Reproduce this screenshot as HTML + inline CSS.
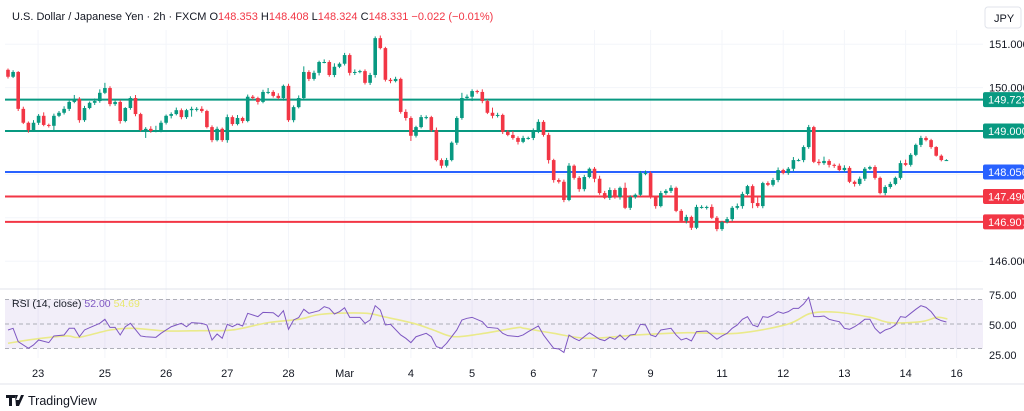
<!DOCTYPE html>
<html><head><meta charset="utf-8"><style>
html,body{margin:0;padding:0;background:#fff;width:1024px;height:411px;overflow:hidden}
svg{display:block;font-family:"Liberation Sans",sans-serif}
</style></head><body>
<svg id="chart" width="1024" height="411" viewBox="0 0 1024 411" xmlns="http://www.w3.org/2000/svg">
<g id="grid"></g>
<g id="levels"></g>
<g id="candles"></g>
<g id="rsi"></g>
<g id="axes"></g>
<text x="12" y="20" font-size="11" fill="#131722">U.S. Dollar / Japanese Yen · 2h · FXCM <tspan>O</tspan><tspan fill="#f23645">148.353</tspan> <tspan>H</tspan><tspan fill="#f23645">148.408</tspan> <tspan>L</tspan><tspan fill="#f23645">148.324</tspan> <tspan>C</tspan><tspan fill="#f23645">148.331</tspan> <tspan fill="#f23645">−0.022 (−0.01%)</tspan></text>
<rect x="985" y="7" width="36" height="21" rx="3" fill="#fff" stroke="#e0e3eb"/>
<text x="994" y="22" font-size="11" fill="#131722">JPY</text>
<text x="12" y="307" font-size="10.5" fill="#131722">RSI (14, close) <tspan fill="#7e57c2">52.00</tspan> <tspan fill="#e8e870">54.69</tspan></text>
<line x1="0" y1="384" x2="1024" y2="384" stroke="#e0e3eb"/>
<g>
<path d="M6 395h9v3h-3v8h-3v-8h-3z M15 395h3l-2 5h3l2-5h3l-5 11h-3z" fill="#131722"/>
<text x="28" y="405" font-size="12.5" fill="#131722">TradingView</text>
</g>
</svg>
<script>
const firstOpen = 150.41;
const closes = [150.25,150.36,149.51,149.19,149.02,149.19,149.35,149.14,149.12,149.35,149.42,149.51,149.67,149.74,149.25,149.53,149.65,149.69,149.88,149.99,149.62,149.67,149.23,149.53,149.76,149.39,149.02,149.05,149.00,149.02,149.19,149.35,149.39,149.48,149.32,149.48,149.51,149.51,149.46,149.09,148.79,149.05,148.79,149.32,149.16,149.30,149.23,149.79,
149.76,149.67,149.90,149.90,149.81,149.76,150.04,149.25,149.55,149.76,150.36,150.20,150.34,150.59,150.59,150.29,150.48,150.55,150.75,150.34,150.36,150.38,150.11,150.29,151.14,150.91,150.18,150.15,150.20,149.44,149.30,148.89,149.09,149.32,149.32,149.02,148.33,148.20,148.33,148.73,149.30,149.76,149.79,149.92,149.90,149.69,149.42,
149.35,149.37,148.98,148.91,148.84,148.75,148.84,148.84,148.98,149.21,148.91,148.33,147.87,147.83,147.41,148.20,147.92,147.66,147.94,148.13,147.90,147.57,147.46,147.64,147.48,147.69,147.23,147.48,147.53,148.03,148.03,147.48,147.27,147.57,147.62,147.69,147.16,146.93,147.02,146.77,147.25,147.25,147.25,147.00,146.74,146.90,146.97,
147.23,147.27,147.55,147.73,147.34,147.27,147.80,147.76,147.87,148.10,148.03,148.13,148.33,148.33,148.63,149.09,148.29,148.26,148.31,148.22,148.20,148.10,148.15,147.83,147.78,147.90,148.13,148.17,147.92,147.57,147.71,147.78,147.92,148.26,148.22,148.45,148.68,148.84,148.79,148.63,148.43,148.33,148.33];
const wickHi = [3,4,2,5,3,6,4,8,3,5,4,6,3,9,4,5,3,6,8,12,4,3,5,2,4,7,3,4,6,10,5,3,4,6,4,3,5,4,6,3,4,5,3,6,4,7,3,5,4,3,5,9,4,6,3,5,4,6,13,4,5,3,6,4,8,3,5,4,6,3,4,5,4,6,3,4,5,3,6,4,3,5,4,3,6,4,5,3,4,12,5,4,3,6,4,12,5,3,4,9,4,5,3,8,6,4,5,3,4,5,6,3,4,5,3,4,7,5,6,4,3,12,4,3,5,6,4,3,5,4,6,3,4,5,3,5,4,3,6,4,3,5,4,6,5,3,4,15,3,4,5,6,3,4,7,3,4,5,3,6,10,4,3,5,6,4,3,5,4,3,4,3,4,5,3,6,8,4,3,5,4,3,2,3,2];
const wickLo = [4,3,5,3,6,4,5,3,4,10,3,4,5,3,6,4,3,5,4,3,5,4,6,3,4,5,3,18,4,3,5,4,6,3,5,4,15,6,4,3,5,3,4,6,4,3,5,3,4,6,3,5,4,3,6,4,5,3,4,5,4,6,3,4,5,3,4,6,5,3,4,5,6,3,4,5,3,4,6,12,4,3,5,4,3,6,4,3,5,4,3,10,4,5,3,6,4,5,3,4,6,3,4,5,3,4,8,6,4,5,3,4,6,5,3,8,4,3,5,4,6,3,5,4,3,5,4,6,3,4,5,3,4,6,5,3,4,6,3,5,4,3,5,4,6,3,12,4,5,3,4,5,3,4,6,3,5,4,3,5,4,6,5,3,4,3,6,4,5,3,4,3,5,4,3,4,3,4,3,5,3,4,2,3,2];
const rsiIdx = [0,1,2,4,5,6,8,9,11,12,13,14,15,16,18,19,20,21,22,23,24,26,27,29,30,32,33,34,35,36,38,39,40,41,42,43,44,45,46,47,49,50,52,53,54,55,56,57,58,59,61,62,63,64,65,66,67,69,70,71,72,73,74,75,77,78,79,80,82,83,84,85,86,88,89,90,91,93,94,96,97,98,100,101,102,104,105,106,107,108,109,110,111,112,113,114,115,116,117,118,119,120,121,122,123,124,125,126,127,128,130,131,132,133,134,135,137,138,139,140,141,142,143,144,145,146,147,148,149,150,151,152,153,154,155,156,157,158,159,160,161,162,163,164,165,166,167,168,169,170,171,172,173,174,175,176,177,178,179,180,181,182,183,184];
const rsiVal = [43.9,45.6,32,25.2,28.6,33.7,31,37.8,38.8,45.6,45.6,37,43.9,46.2,50.7,54.8,46.6,46.6,38.8,47.2,50.7,37.8,37,36.4,40.5,47.2,49,50.7,47.2,51.4,50.7,49,33.7,39.8,35.4,49.7,47.2,50,48,60.9,57.5,61.9,61.5,57.5,63.6,44.6,54.1,56.5,65,60.9,63.6,67.7,66,60.2,62.6,66.6,56.8,56.8,50.7,54.1,68.7,64.3,49,49.7,38.8,35.4,31,37,40.5,37,26.9,25.2,30.3,43.9,54.1,55.8,56.8,52.4,46.6,45.6,40.5,38.1,37.1,38.8,42.2,48,38.8,32,25.2,24.5,21,38.8,35.4,33,37.1,41.1,37.8,34.4,33,36.4,34.4,38.8,33.7,38.8,39.5,49.7,49,38.8,37.1,43.9,45.6,38.8,33.7,35.4,32.7,42.2,42.9,38.8,34.4,37.8,40.5,45.6,49,54.8,57.5,49,47.2,57.5,56.8,59.2,62.6,60.9,62.6,66,66,70.4,77.2,57.5,57.5,58.2,54.8,53.4,52.4,45.6,44.6,47.2,50.7,54.8,54.8,45.6,40.5,43.9,45.6,49,57.5,56.8,60.9,65,68.7,67,62.6,55.8,53.4,52.0];
const maIdx = [0,5,11.5,14,20,24.5,31,37.6,44,51,57,60.5,64,70.4,73.6,79.5,83.4,87.3,92.5,99.8,101.2,107,113.6,123.4,133.2,143,152.8,157.4,162.6,169.1,173,179,182.2,184.2];
const maVal = [30.3,34.4,37.8,36.4,43.9,45.6,42.9,43.2,43.9,51.4,54.8,59.2,60.9,60.9,57.5,50.7,43.9,37.1,39.8,46.2,45.6,40.5,35.4,38.8,41.1,40.5,49.7,60.9,62,56.8,51.4,52.4,56.8,55.1];
const priceTicks = [151,150,146];
const priceTickLabels = ["151.000","150.000","146.000"];
const levelPrices = [149.723,149.0,148.056,147.49,146.907];
const levelLabels = ["149.723","149.000","148.056","147.490","146.907"];
const levelColors = ["#089981","#089981","#2962ff","#f23645","#f23645"];
const dateIdx = [5.9,19,31,43,55,66,79,91,103,115,126,140,152,164,176,186];
const dateLabels = ["23","25","26","27","28","Mar","4","5","6","7","9","11","12","13","14","16"];
const rsiTicks = [75,50,25];
const rsiTickLabels = ["75.00","50.00","25.00"];

const NS="http://www.w3.org/2000/svg";
const xOf = i => 8 + i*5.1;
const yP = p => 131 + (149 - p)*43.4;
const yR = v => 324 - (v - 50)*0.98;
function mk(tag, attrs, parent){const e=document.createElementNS(NS,tag);for(const k in attrs)e.setAttribute(k,attrs[k]);parent.appendChild(e);return e;}
const grid=document.getElementById('grid'),lv=document.getElementById('levels'),cg=document.getElementById('candles'),rg=document.getElementById('rsi'),ax=document.getElementById('axes');

dateIdx.forEach((d,i)=>{
  const l=mk('line',{x1:xOf(d),x2:xOf(d),y1:30,y2:358,stroke:'#f3f5fa'},grid);
  
  
  const t=mk('text',{x:xOf(d),y:377,'font-size':11,fill:'#131722','text-anchor':'middle'},ax);
  t.textContent=dateLabels[i];
  
  
});
[151,150,149,148,147,146].forEach(p=>{
  const l=mk('line',{x1:5,x2:983,y1:yP(p),y2:yP(p),stroke:'#f3f5fa'},grid);
  
  
});
priceTicks.forEach((p,i)=>{
  const t=mk('text',{x:989,y:yP(p)+4,'font-size':11,fill:'#131722'},ax);
  t.textContent=priceTickLabels[i];
  
  
});
mk('line',{x1:0,x2:983,y1:289,y2:289,stroke:'#e0e3eb'},grid);

levelPrices.forEach((p,i)=>{
  const y=yP(p);
  const l=mk('line',{x1:5,x2:983,y1:y,y2:y,stroke:levelColors[i],'stroke-width':2},lv);
  
  
  const r=mk('rect',{x:983,y:y-7.5,width:41,height:15,rx:2,fill:levelColors[i]},lv);
  
  
  const t=mk('text',{x:988,y:y+4,'font-size':11,fill:'#fff'},lv);
  t.textContent=levelLabels[i];
  
  
});

closes.forEach((c,i)=>{
  const o = i===0 ? firstOpen : closes[i-1];
  const up = c>=o;
  const col = up ? '#089981' : '#f23645';
  const hi = Math.max(o,c)+wickHi[i]/100, lo = Math.min(o,c)-wickLo[i]/100;
  const x=xOf(i);
  const w=mk('line',{x1:x,x2:x,y1:yP(hi),y2:yP(lo),stroke:col,'stroke-width':1},cg);
  
  
  const yt=yP(Math.max(o,c)), yb=yP(Math.min(o,c));
  const b=mk('rect',{x:x-1.8,y:yt,width:3.6,height:Math.max(1,yb-yt),fill:col},cg);
  
  
});

mk('rect',{x:5,y:yR(75),width:978,height:yR(25)-yR(75),fill:'rgba(126,87,194,0.1)'},rg);
[75,50,25].forEach(v=>{
  const l=mk('line',{x1:5,x2:983,y1:yR(v),y2:yR(v),stroke:'#9598a1','stroke-dasharray':'4 3','stroke-width':0.8},rg);
  
  
});
rsiTicks.forEach((v,i)=>{
  const t=mk('text',{x:989,y:[299,329,359][i],'font-size':11,fill:'#131722'},ax);
  t.textContent=rsiTickLabels[i];
  
  
});
let pts=maIdx.map((d,i)=>[xOf(d),yR(maVal[i])]);
let dpath='M'+pts[0][0]+' '+pts[0][1];
for(let i=0;i<pts.length-1;i++){
  const p0=pts[Math.max(0,i-1)],p1=pts[i],p2=pts[i+1],p3=pts[Math.min(pts.length-1,i+2)];
  const c1=[p1[0]+(p2[0]-p0[0])/6,p1[1]+(p2[1]-p0[1])/6],c2=[p2[0]-(p3[0]-p1[0])/6,p2[1]-(p3[1]-p1[1])/6];
  dpath+=` C${c1[0]} ${c1[1]} ${c2[0]} ${c2[1]} ${p2[0]} ${p2[1]}`;
}
const ma=mk('path',{d:dpath,fill:'none',stroke:'#eaea8a','stroke-width':1.6},rg);


const rl=mk('polyline',{points:rsiIdx.map((d,i)=>xOf(d)+','+yR(rsiVal[i])).join(' '),fill:'none',stroke:'#7e57c2','stroke-width':1},rg);


</script>
</body></html>
